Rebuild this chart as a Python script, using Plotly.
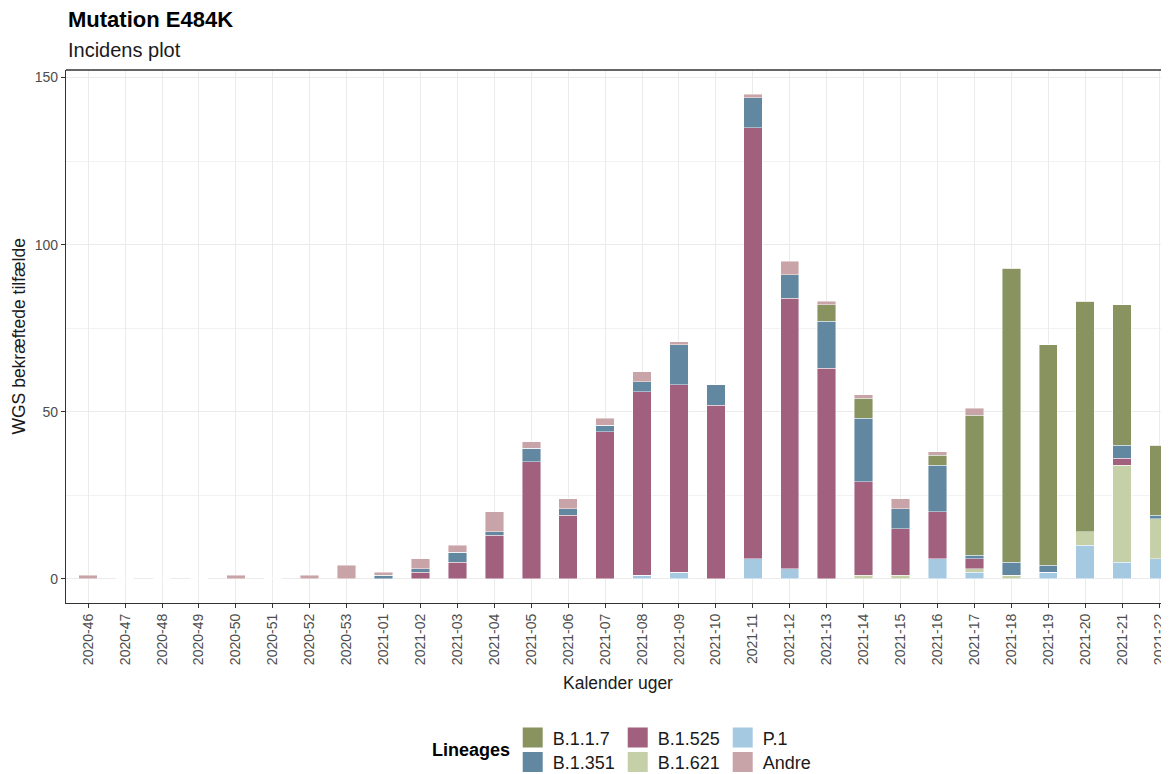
import plotly.graph_objects as go

weeks = ["2020-46", "2020-47", "2020-48", "2020-49", "2020-50", "2020-51", "2020-52", "2020-53",
         "2021-01", "2021-02", "2021-03", "2021-04", "2021-05", "2021-06", "2021-07", "2021-08",
         "2021-09", "2021-10", "2021-11", "2021-12", "2021-13", "2021-14", "2021-15", "2021-16",
         "2021-17", "2021-18", "2021-19", "2021-20", "2021-21", "2021-22"]

# stacked bottom -> top
p1      = [0, 0, 0, 0, 0, 0, 0, 0, 0, 0, 0, 0, 0, 0, 0, 1, 2, 0, 6, 3, 0, 0, 0, 6, 2, 0, 2, 10, 5, 6]
b1621   = [0, 0, 0, 0, 0, 0, 0, 0, 0, 0, 0, 0, 0, 0, 0, 0, 0, 0, 0, 0, 0, 1, 1, 0, 1, 1, 0, 4, 29, 12]
b1525   = [0, 0, 0, 0, 0, 0, 0, 0, 0, 2, 5, 13, 35, 19, 44, 55, 56, 52, 129, 81, 63, 28, 14, 14, 3, 0, 0, 0, 2, 0]
b1351   = [0, 0, 0, 0, 0, 0, 0, 0, 1, 1, 3, 1, 4, 2, 2, 3, 12, 6, 9, 7, 14, 19, 6, 14, 1, 4, 2, 0, 4, 1]
b117    = [0, 0, 0, 0, 0, 0, 0, 0, 0, 0, 0, 0, 0, 0, 0, 0, 0, 0, 0, 0, 5, 6, 0, 3, 42, 88, 66, 69, 42, 21]
andre   = [1, 0, 0, 0, 1, 0, 1, 4, 1, 3, 2, 6, 2, 3, 2, 3, 1, 0, 1, 4, 1, 1, 3, 1, 2, 0, 0, 0, 0, 0]

lineages = ["P.1", "B.1.621", "B.1.525", "B.1.351", "B.1.1.7", "Andre"]
values = [p1, b1621, b1525, b1351, b117, andre]
colors = {"B.1.1.7": "#889360", "B.1.351": "#6187A1", "B.1.525": "#A0607E",
          "B.1.621": "#C5CFA8", "P.1": "#A6C9E2", "Andre": "#C8A3A7"}
legend_rows = {"B.1.1.7": ("legend", 1), "B.1.525": ("legend", 2), "P.1": ("legend", 3),
               "B.1.351": ("legend2", 1), "B.1.621": ("legend2", 2), "Andre": ("legend2", 3)}

y_ticks = [0, 50, 100, 150]

FONT = "Liberation Sans, Arial, sans-serif"

fig = go.Figure()
for name, vals in zip(lineages, values):
    fig.add_trace(go.Bar(
        x=weeks, y=vals, name=name, width=0.5,
        marker=dict(color=colors[name], line=dict(color="rgba(255,255,255,0.55)", width=0.8)),
        showlegend=False, hovertemplate="%{x}: %{y}<extra>" + name + "</extra>"))

# legend entries (bigger square keys)
for name in ["B.1.1.7", "B.1.525", "P.1", "B.1.351", "B.1.621", "Andre"]:
    lg, rank = legend_rows[name]
    fig.add_trace(go.Scatter(
        x=[None], y=[None], mode="markers", name=name, legend=lg, legendrank=rank,
        marker=dict(symbol="square", size=16, color=colors[name],
                    line=dict(color=colors[name], width=4)),
        hoverinfo="skip"))

fig.update_layout(
    barmode="stack",
    width=1161, height=766,
    margin=dict(l=58, r=0, t=62, b=171, autoexpand=False),
    paper_bgcolor="white", plot_bgcolor="white",
    font=dict(family=FONT, color="#1a1a1a"),
    bargap=0.5,
    xaxis=dict(
        type="category", categoryorder="array", categoryarray=weeks,
        range=[-0.6, 29.27], tickangle=-90,
        tickfont=dict(size=14, color="#4D4D4D"),
        showgrid=True, gridcolor="#EBEBEB", gridwidth=1.1,
        showline=True, linecolor="#333333", linewidth=1.3,
        ticks="outside", ticklen=4, tickcolor="#333333", tickwidth=1.1,
        zeroline=False, fixedrange=True, automargin=False),
    yaxis=dict(
        range=[-7.25, 152.25], tickvals=y_ticks,
        tickfont=dict(size=14, color="#4D4D4D"),
        showgrid=True, gridcolor="#EBEBEB", gridwidth=1.1,
        minor=dict(tickvals=[25, 75, 125], showgrid=True, gridcolor="#F2F2F2", gridwidth=0.8, ticks=""),
        showline=True, linecolor="#333333", linewidth=1.3,
        ticks="outside", ticklen=4, tickcolor="#333333", tickwidth=1.1,
        zeroline=False, fixedrange=True, automargin=False),
    legend=dict(orientation="h", x=0.405, y=-0.253, xanchor="left", yanchor="middle",
                entrywidth=60, traceorder="normal", itemsizing="trace",
                font=dict(size=18, color="#1a1a1a"), bgcolor="rgba(0,0,0,0)",
                tracegroupgap=0, itemclick=False, itemdoubleclick=False),
    legend2=dict(orientation="h", x=0.405, y=-0.299, xanchor="left", yanchor="middle",
                 entrywidth=60, traceorder="normal", itemsizing="trace",
                 font=dict(size=18, color="#1a1a1a"), bgcolor="rgba(0,0,0,0)",
                 tracegroupgap=0, itemclick=False, itemdoubleclick=False),
    shapes=[dict(type="line", xref="paper", yref="paper", x0=0, x1=1, y0=1, y1=1,
                 line=dict(color="#333333", width=1.3))],
    annotations=[
        dict(text="<b>Mutation E484K</b>", xref="paper", yref="paper", x=0, y=1.094,
             xanchor="left", yanchor="middle", showarrow=False,
             font=dict(size=22, color="#000000")),
        dict(text="Incidens plot", xref="paper", yref="paper", x=0, y=1.0375,
             xanchor="left", yanchor="middle", showarrow=False,
             font=dict(size=20, color="#1a1a1a")),
        dict(text="WGS bekræftede tilfælde", xref="paper", yref="paper", x=-0.0435, y=0.5,
             xanchor="center", yanchor="middle", textangle=-90, showarrow=False,
             font=dict(size=17.5, color="#1a1a1a")),
        dict(text="Kalender uger", xref="paper", yref="paper", x=0.5, y=-0.150,
             xanchor="center", yanchor="middle", showarrow=False,
             font=dict(size=17.5, color="#1a1a1a")),
        dict(text="<b>Lineages</b>", xref="paper", yref="paper", x=(512 - 66) / 1103, y=-0.2755,
             xanchor="right", yanchor="middle", showarrow=False,
             font=dict(size=18, color="#000000")),
    ],
)

fig.write_html("out.html")
